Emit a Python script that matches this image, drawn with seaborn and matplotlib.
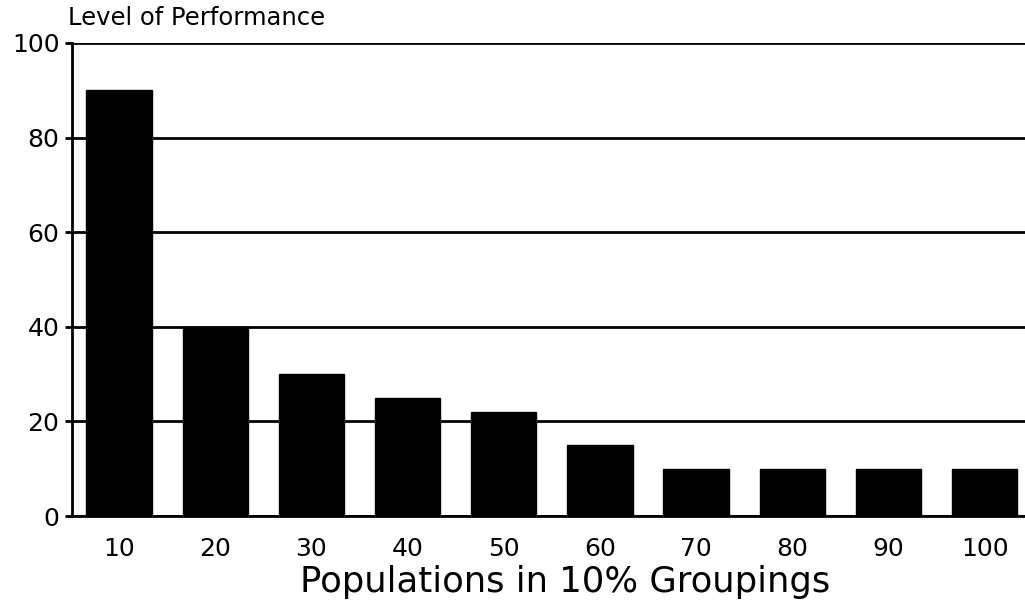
import pandas as pd
import matplotlib
matplotlib.use('Agg')
import matplotlib.pyplot as plt
import seaborn as sns

# values
groups = ['10', '20', '30', '40', '50', '60', '70', '80', '90', '100']
performance = [90, 40, 30, 25, 22, 15, 10, 10, 10, 10]
y_ticks = [0, 20, 40, 60, 80, 100]

data = pd.DataFrame({'Group': groups, 'Performance': performance})

sns.set_style('white')
plt.rcParams['font.family'] = ['DejaVu Sans']
plt.rcParams['text.color'] = 'black'
plt.rcParams['xtick.color'] = 'black'
plt.rcParams['ytick.color'] = 'black'
plt.rcParams['axes.labelcolor'] = 'black'

fig = plt.figure(figsize=(10.25, 6.13), dpi=100)
ax = fig.add_axes([0.0702, 0.158, 0.9298, 0.772])

sns.barplot(data=data, x='Group', y='Performance', color='black',
            width=0.68, saturation=1, edgecolor='black', ax=ax, zorder=3)

ax.set_ylim(0, 100)
ax.set_xlim(-0.49, 9.42)
ax.set_yticks(y_ticks)
ax.yaxis.grid(True, color='black', linewidth=2, zorder=0)
ax.set_axisbelow(True)

for side in ['top', 'right']:
    ax.spines[side].set_visible(False)
for side in ['left', 'bottom']:
    ax.spines[side].set_color('black')
    ax.spines[side].set_linewidth(2)

ax.tick_params(axis='y', length=5, width=2, labelsize=18, pad=4, left=True)
ax.tick_params(axis='x', length=0, labelsize=18, pad=15)

ax.set_ylabel('')
ax.set_xlabel('Populations in 10% Groupings', fontsize=25.5, labelpad=3)
ax.xaxis.label.set_x(0.517)
fig.text(0.066, 0.99, 'Level of Performance', fontsize=17.5, va='top', ha='left')

plt.savefig('out.png', dpi=100)
